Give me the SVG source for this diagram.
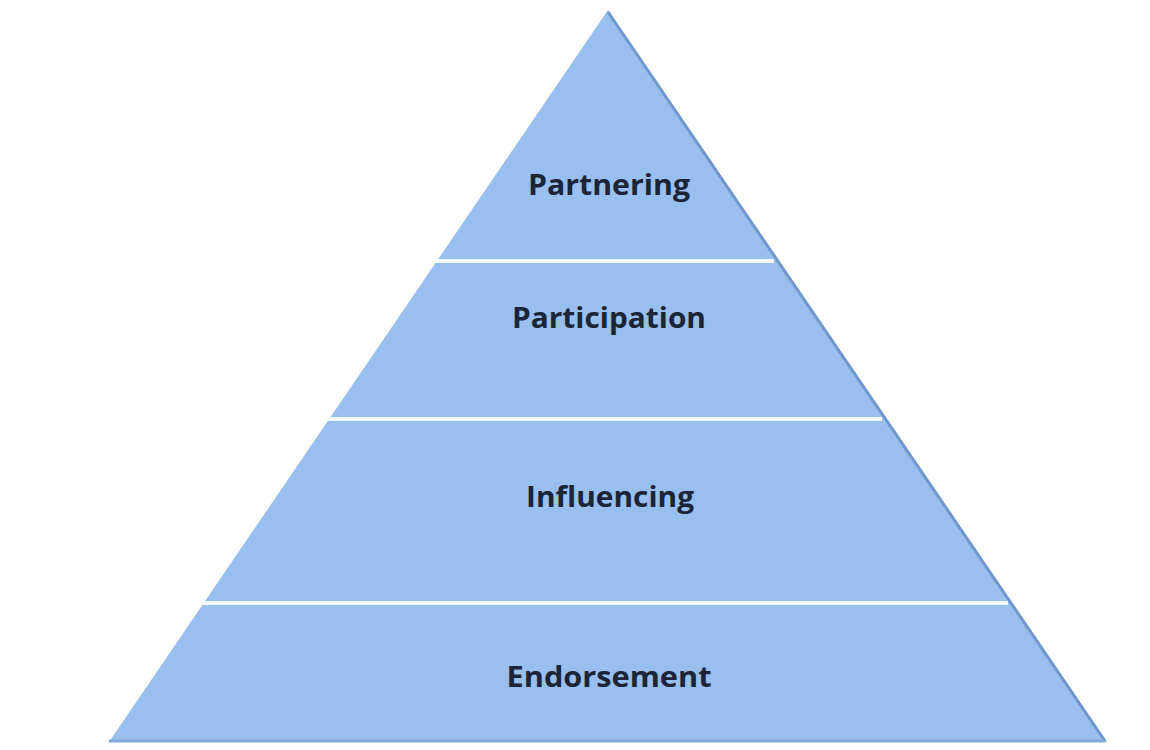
<svg xmlns="http://www.w3.org/2000/svg" width="1150" height="750" viewBox="0 0 1150 750">
<style>
.lbl{font-family:"Open Sans","Liberation Sans",sans-serif;font-weight:bold;font-size:29px;fill:#1b2537;text-anchor:middle}
.sep{stroke:#f4f8fd;stroke-width:4}
</style>
<rect width="1150" height="750" fill="#ffffff"/>
<g id="pyramid">
<polygon points="608,10 109,742 1107,742" fill="#98bfee"/>
<line x1="608" y1="12" x2="1105" y2="741" stroke="#7097c9" stroke-width="3"/>
<line x1="109" y1="741" x2="1105" y2="741" stroke="#84a9d9" stroke-width="3"/>
</g>
<g id="connectors">
<line class="sep" x1="436" y1="261" x2="774" y2="261"/>
<line class="sep" x1="328" y1="419" x2="882" y2="419"/>
<line class="sep" x1="203" y1="603" x2="1008" y2="603"/>
</g>
<g id="partnering"><text class="lbl" x="609" y="195" textLength="162" lengthAdjust="spacingAndGlyphs">Partnering</text></g>
<g id="participation"><text class="lbl" x="609" y="328" textLength="194" lengthAdjust="spacingAndGlyphs">Participation</text></g>
<g id="influencing"><text class="lbl" x="610" y="507" textLength="168" lengthAdjust="spacingAndGlyphs">Influencing</text></g>
<g id="endorsement"><text class="lbl" x="609" y="687" textLength="205" lengthAdjust="spacingAndGlyphs">Endorsement</text></g>
</svg>
